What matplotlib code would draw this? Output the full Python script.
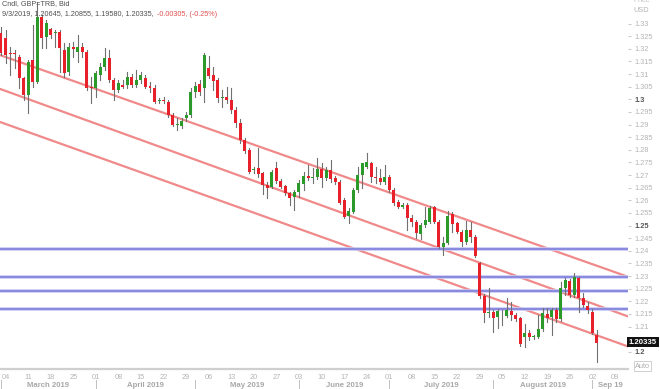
import numpy as np
import pandas as pd
import matplotlib
matplotlib.use('Agg')
import matplotlib.pyplot as plt
from matplotlib.patches import Rectangle
from matplotlib.transforms import blended_transform_factory

plt.rcParams['font.family'] = ['Liberation Sans', 'DejaVu Sans']

# daily candles GBP=TRB (bid), 1 Mar 2019 -> 3 Sep 2019, every weekday
dates = pd.bdate_range('2019-03-01', '2019-09-03')
axis_days = pd.bdate_range('2019-03-01', '2019-09-13')

opens = [1.3261, 1.3241, 1.3184, 1.3182, 1.3169, 1.3083, 1.3017, 1.3155, 1.3070, 1.3327,
         1.3248, 1.3277, 1.3261, 1.3268, 1.3195, 1.3109, 1.3208, 1.3188, 1.3208, 1.3188,
         1.3047, 1.3043, 1.3096, 1.3129, 1.3162, 1.3076, 1.3037, 1.3056, 1.3056, 1.3089,
         1.3056, 1.3076, 1.3083, 1.3053, 1.3043, 1.2994, 1.2997, 1.2990, 1.2938, 1.2898,
         1.2894, 1.2924, 1.2938, 1.3030, 1.3060, 1.3043, 1.3122, 1.3096, 1.3076, 1.3006,
         1.3010, 1.2999, 1.2957, 1.2905, 1.2839, 1.2799, 1.2720, 1.2726, 1.2707, 1.2660,
         1.2654, 1.2726, 1.2677, 1.2656, 1.2627, 1.2614, 1.2634, 1.2664, 1.2696, 1.2690,
         1.2691, 1.2722, 1.2687, 1.2720, 1.2687, 1.2674, 1.2601, 1.2538, 1.2555, 1.2641,
         1.2700, 1.2733, 1.2746, 1.2691, 1.2687, 1.2671, 1.2693, 1.2641, 1.2594, 1.2575,
         1.2581, 1.2528, 1.2515, 1.2467, 1.2502, 1.2515, 1.2572, 1.2515, 1.2414, 1.2432,
         1.2546, 1.2509, 1.2475, 1.2436, 1.2482, 1.2456, 1.2350, 1.2221, 1.2152, 1.2159,
         1.2136, 1.2146, 1.2142, 1.2163, 1.2146, 1.2132, 1.2057, 1.2076, 1.2057, 1.2060,
         1.2089, 1.2148, 1.2139, 1.2165, 1.2128, 1.2251, 1.2282, 1.2225, 1.2291, 1.2212,
         1.2181, 1.2159, 1.20645]
closes = [1.3182, 1.3175, 1.3179, 1.3178, 1.3083, 1.3017, 1.3149, 1.3070, 1.3327, 1.3241,
          1.3301, 1.3254, 1.3268, 1.3202, 1.3103, 1.3208, 1.3200, 1.3208, 1.3188, 1.3043,
          1.3043, 1.3103, 1.3129, 1.3162, 1.3076, 1.3037, 1.3063, 1.3050, 1.3089, 1.3056,
          1.3076, 1.3096, 1.3050, 1.3043, 1.2990, 1.2997, 1.2994, 1.2938, 1.2898, 1.2902,
          1.2915, 1.2938, 1.3030, 1.3052, 1.3028, 1.3175, 1.3092, 1.3074, 1.3004, 1.3010,
          1.2997, 1.2957, 1.2905, 1.2839, 1.2797, 1.2713, 1.2724, 1.2704, 1.2660, 1.2650,
          1.2713, 1.2677, 1.2654, 1.2627, 1.2608, 1.2634, 1.2670, 1.2696, 1.2687, 1.2693,
          1.2722, 1.2687, 1.2720, 1.2683, 1.2671, 1.2590, 1.2535, 1.2559, 1.2641, 1.2700,
          1.2746, 1.2750, 1.2691, 1.2689, 1.2671, 1.2693, 1.2641, 1.2590, 1.2572, 1.2581,
          1.2528, 1.2515, 1.2469, 1.2502, 1.2522, 1.2568, 1.2515, 1.2414, 1.2432, 1.2538,
          1.2506, 1.2475, 1.2436, 1.2482, 1.2456, 1.2379, 1.2221, 1.2152, 1.2156, 1.2132,
          1.2163, 1.2144, 1.2165, 1.2146, 1.2128, 1.2031, 1.2076, 1.2057, 1.2062, 1.2089,
          1.2152, 1.2132, 1.2165, 1.2128, 1.2251, 1.2284, 1.2225, 1.2297, 1.2214, 1.2185,
          1.2165, 1.2073, 1.20335]
highs = [1.3287, 1.3274, 1.3208, 1.3195, 1.3175, 1.3089, 1.3155, 1.3294, 1.3385, 1.3334,
         1.3314, 1.3281, 1.3274, 1.3274, 1.3221, 1.3221, 1.3228, 1.3254, 1.3221, 1.3195,
         1.3089, 1.3110, 1.3142, 1.3202, 1.3195, 1.3083, 1.3076, 1.3076, 1.3109, 1.3102,
         1.3116, 1.3109, 1.3096, 1.3070, 1.3056, 1.3004, 1.3010, 1.2997, 1.2944, 1.2924,
         1.2924, 1.2951, 1.3043, 1.3070, 1.3076, 1.3182, 1.3171, 1.3129, 1.3083, 1.3037,
         1.3047, 1.3043, 1.2970, 1.2920, 1.2845, 1.2806, 1.2733, 1.2806, 1.2713, 1.2674,
         1.2720, 1.2753, 1.2683, 1.2660, 1.2634, 1.2641, 1.2680, 1.2713, 1.2740, 1.2727,
         1.2766, 1.2746, 1.2733, 1.2760, 1.2696, 1.2680, 1.2608, 1.2568, 1.2647, 1.2733,
         1.2749, 1.2786, 1.2753, 1.2733, 1.2723, 1.2740, 1.2700, 1.2647, 1.2601, 1.2588,
         1.2588, 1.2542, 1.2522, 1.2509, 1.2572, 1.2577, 1.2577, 1.2522, 1.2456, 1.2559,
         1.2555, 1.2515, 1.2482, 1.2519, 1.2515, 1.2462, 1.2356, 1.2228, 1.2251, 1.2165,
         1.2168, 1.2165, 1.2212, 1.2198, 1.2152, 1.2139, 1.2109, 1.2086, 1.2066, 1.2146,
         1.2172, 1.2172, 1.2172, 1.2172, 1.2278, 1.2291, 1.2290, 1.2313, 1.2297, 1.2231,
         1.2198, 1.2168, 1.20855]
lows = [1.3175, 1.3142, 1.3096, 1.3122, 1.3043, 1.2997, 1.2944, 1.3050, 1.3063, 1.3202,
        1.3202, 1.3241, 1.3208, 1.3109, 1.3089, 1.3096, 1.3169, 1.3149, 1.3169, 1.3037,
        1.2984, 1.3010, 1.3076, 1.3116, 1.3070, 1.2997, 1.3030, 1.3043, 1.3043, 1.3050,
        1.3047, 1.3063, 1.3043, 1.3030, 1.2984, 1.2987, 1.2984, 1.2931, 1.2894, 1.2878,
        1.2885, 1.2915, 1.2931, 1.3010, 1.3017, 1.2990, 1.3083, 1.3037, 1.2990, 1.2971,
        1.2984, 1.2944, 1.2891, 1.2826, 1.2786, 1.2707, 1.2709, 1.2694, 1.2625, 1.2608,
        1.2647, 1.2667, 1.2647, 1.2621, 1.2581, 1.2561, 1.2614, 1.2641, 1.2680, 1.2667,
        1.2683, 1.2654, 1.2680, 1.2674, 1.2664, 1.2585, 1.2528, 1.2509, 1.2548, 1.2634,
        1.2647, 1.2727, 1.2674, 1.2667, 1.2664, 1.2664, 1.2634, 1.2581, 1.2568, 1.2568,
        1.2482, 1.2498, 1.2449, 1.2445, 1.2496, 1.2509, 1.2509, 1.2410, 1.2383, 1.2427,
        1.2475, 1.2469, 1.2419, 1.2427, 1.2436, 1.2374, 1.2212, 1.2119, 1.2139, 1.2080,
        1.2093, 1.2106, 1.2136, 1.2126, 1.2123, 1.2023, 1.2017, 1.2046, 1.2049, 1.2053,
        1.2083, 1.2119, 1.2066, 1.2119, 1.2123, 1.2225, 1.2218, 1.2218, 1.2159, 1.2178,
        1.2155, 1.2070, 1.1958]

# drawn levels
h_levels = [1.2408, 1.2296, 1.2241, 1.2168]
channel_x = [-0.22, 138.87]
channel_top = [1.3175, 1.2297]
channel_mid = [1.3041, 1.2140]
channel_low = [1.2910, 1.2021]

y_ticks = np.arange(1.2, 1.3326, 0.005)
month_names = ['March 2019', 'April 2019', 'May 2019', 'June 2019',
               'July 2019', 'August 2019', 'Sep 19']

GREEN = '#2b9a2b'
RED = '#e8202a'

fig = plt.figure(figsize=(6.6, 3.89), dpi=100)
ax = fig.add_axes([0, 20 / 389, 628 / 660, 369 / 389])
ax.set_xlim(-0.22, 138.87)
ax.set_ylim(1.19317, 1.33931)

# trend channel + horizontal levels
for ys in (channel_top, channel_mid, channel_low):
    ax.plot(channel_x, ys, color='#f08a8a', lw=1.6, zorder=1)
for lv in h_levels:
    ax.axhline(lv, color='#c8c8f4', lw=2.6, zorder=1)
    ax.axhline(lv, color='#8484dc', lw=1.3, zorder=1)

# candles
x = np.arange(len(dates))
bw = 0.66
for i in range(len(dates)):
    o, c, h, l = opens[i], closes[i], highs[i], lows[i]
    col = GREEN if c >= o else RED
    ax.plot([x[i], x[i]], [min(l, o, c), max(h, o, c)], color='#707070', lw=0.8, zorder=2)
    body = max(abs(c - o), 0.00025)
    ax.add_patch(Rectangle((x[i] - bw / 2, min(o, c)), bw, body,
                           facecolor=col, edgecolor='none', zorder=3))

# axes styling
for s in ('top', 'left', 'right'):
    ax.spines[s].set_visible(False)
ax.spines['bottom'].set_color('#cfcfcf')
ax.spines['bottom'].set_linewidth(1.6)

ax.yaxis.tick_right()
ax.set_yticks(y_ticks)
ax.set_yticklabels([('%.3f' % v).rstrip('0').rstrip('.') for v in y_ticks])
ax.tick_params(axis='y', length=2.2, width=0.7, color='#c8c8c8', pad=2.5,
               labelsize=5.3, labelcolor='#b4b4b4')
for lab in ax.get_yticklabels():
    if lab.get_text() in ('1.3', '1.25', '1.2'):
        lab.set_color('#555555')
        lab.set_fontweight('bold')

# weekly ticks (Mondays) + month labels
mondays = [k for k, d in enumerate(axis_days) if d.weekday() == 0]
ax.set_xticks(mondays)
ax.set_xticklabels([axis_days[k].strftime('%d') for k in mondays])
ax.tick_params(axis='x', length=0, pad=3.5, labelsize=5.3, labelcolor='#b4b4b4')

trans = blended_transform_factory(ax.transData, ax.transAxes)
month_starts = [k for k in range(len(axis_days))
                if k == 0 or axis_days[k].month != axis_days[k - 1].month]
edges = month_starts + [138.87]
for m, name in enumerate(month_names):
    xm = (edges[m] + edges[m + 1]) / 2
    ax.text(xm, -16.5 / 369, name, transform=trans, ha='center', va='center',
            fontsize=5.6, color='#a8a8a8', fontweight='bold', clip_on=False)
for k in month_starts:
    ax.plot([k, k], [-11 / 369, -20 / 369], transform=trans, color='#c0c0c0',
            lw=0.7, clip_on=False)

# header: black part, then the change in red right after it
fig.text(2 / 660, 1 - 4 / 389, 'Cndl, GBP=TRB, Bid', fontsize=5.2, color='#505050',
         va='center', ha='left')
t1 = fig.text(2 / 660, 1 - 14 / 389, '9/3/2019, 1.20645, 1.20855, 1.19580, 1.20335, ',
              fontsize=5.2, color='#505050', va='center', ha='left')
fig.canvas.draw()
bb = t1.get_window_extent()
fig.text((bb.x1 + 1.5) / 660, 1 - 14 / 389, '-0.00305, (-0.25%)', fontsize=5.2,
         color='#e05050', va='center', ha='left')

# price axis header, last price box, Auto
fig.text(633 / 660, 1 - 1 / 389, 'Price', fontsize=5.3, color='#c0c0c0', va='center')
fig.text(633 / 660, 1 - 10 / 389, 'USD', fontsize=5.3, color='#b4b4b4', va='center')
fig.text(629 / 660, 1 - 342 / 389, '1.20335', fontsize=5.6, color='white',
         fontweight='bold', va='center', ha='left', zorder=5,
         bbox=dict(boxstyle='square,pad=0.25', facecolor='#111111', edgecolor='none'))
fig.text(635 / 660, 1 - 366 / 389, 'Auto', fontsize=5.3, color='#b0b0b0',
         va='center', ha='left',
         bbox=dict(boxstyle='square,pad=0.2', facecolor='white', edgecolor='#c8c8c8', lw=0.6))

fig.savefig('out.png', dpi=100)
